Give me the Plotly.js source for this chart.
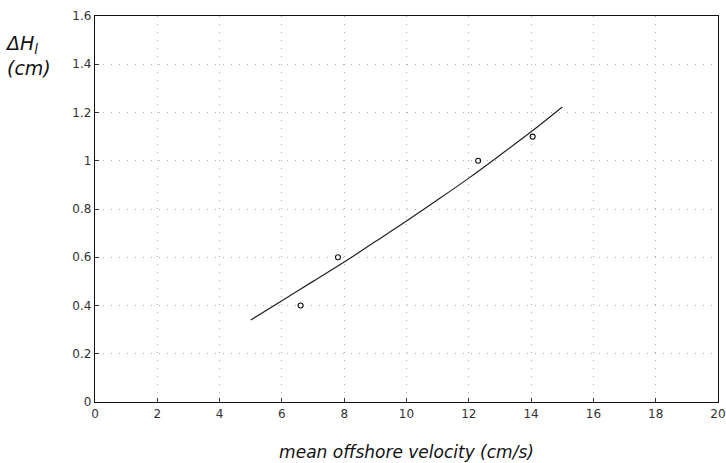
<!DOCTYPE html>
<html>
<head>
<meta charset="utf-8">
<script src="https://cdn.plot.ly/plotly-3.0.1.min.js"></script>
<style>html,body{margin:0;padding:0;background:#fff;}#chart{width:726px;height:463px;}</style>
</head>
<body>
<div id="chart"></div>
<script>
// observed data points
var obsVelocity = [6.6, 7.8, 12.3, 14.05];
var obsDeltaH = [0.40, 0.60, 1.00, 1.10];
// fitted curve
var fitVelocity = [5, 6, 7, 8, 9, 10, 11, 12, 13, 14, 15];
var fitDeltaH = [0.34, 0.42, 0.50, 0.58, 0.665, 0.75, 0.838, 0.928, 1.023, 1.12, 1.223];
var xTicks = [0, 2, 4, 6, 8, 10, 12, 14, 16, 18, 20];
var yTicks = [0, 0.2, 0.4, 0.6, 0.8, 1, 1.2, 1.4, 1.6];

var fontFam = 'DejaVu Sans, sans-serif';
var traces = [
  {x: fitVelocity, y: fitDeltaH, mode: 'lines', type: 'scatter',
   line: {color: '#222', width: 1.2, shape: 'spline', smoothing: 1}, hoverinfo: 'none'},
  {x: obsVelocity, y: obsDeltaH, mode: 'markers', type: 'scatter',
   marker: {symbol: 'circle-open', size: 5, color: '#111', line: {width: 1.1, color: '#111'}}}
];
var axisCommon = {
  showline: true, mirror: true, linecolor: '#111', linewidth: 1.2,
  ticks: 'inside', ticklen: 4, tickcolor: '#333',
  showgrid: true, gridcolor: '#b0b0b0', griddash: '1px,7px', gridwidth: 1,
  zeroline: false,
  tickfont: {family: fontFam, size: 12, color: '#333'}
};
var layout = {
  width: 726, height: 463,
  margin: {l: 95, r: 8, t: 16, b: 61},
  paper_bgcolor: '#fff', plot_bgcolor: '#fff',
  showlegend: false,
  xaxis: Object.assign({}, axisCommon, {
    range: [0, 20], tickvals: xTicks, ticktext: xTicks.map(String),
    title: {text: '<i>mean offshore velocity (cm/s)</i>', font: {family: fontFam, size: 17, color: '#111'}, standoff: 26}
  }),
  yaxis: Object.assign({}, axisCommon, {
    range: [0, 1.6], tickvals: yTicks, ticktext: yTicks.map(String)
  }),
  annotations: [
    {xref: 'paper', yref: 'paper', x: -0.148, y: 1.0, xanchor: 'left', yanchor: 'top',
     yshift: -14, showarrow: false, align: 'left',
     text: '<i>ΔH<sub>l</sub></i><br><i>(cm)</i>',
     font: {family: fontFam, size: 19, color: '#111'}}
  ]
};
Plotly.newPlot('chart', traces, layout, {displayModeBar: false, staticPlot: true});
</script>
</body>
</html>
